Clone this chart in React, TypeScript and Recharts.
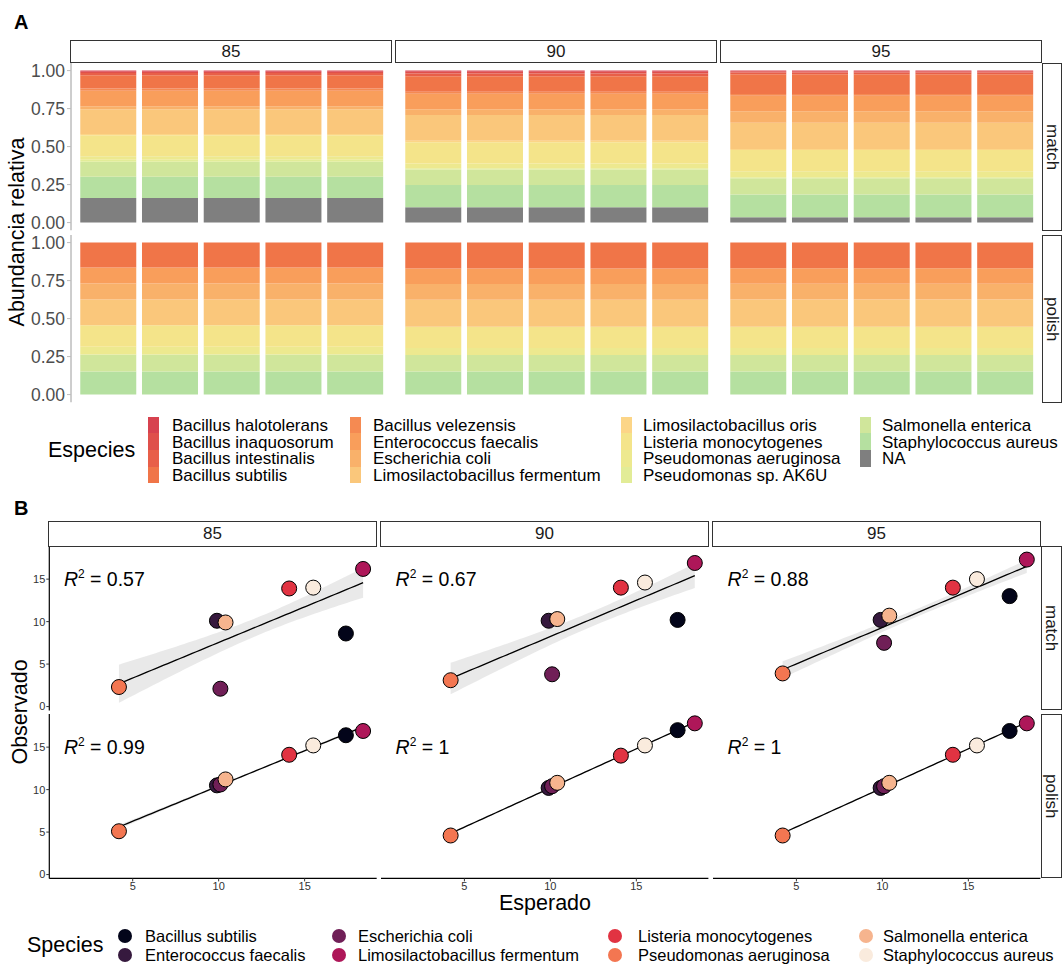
import React from 'react';
import { BarChart, Bar, XAxis, YAxis, ComposedChart, Scatter, Line, Area, ReferenceDot } from 'recharts';

const FONT = '"Liberation Sans", Arial, Helvetica, sans-serif';

const facets = ['85', '90', '95'];
const pipelines = ['match', 'polish'];
const runs = ['1', '2', '3', '4', '5'];

// panel A taxa, legend order (top of stack first)
const taxa = [
  'Bacillus halotolerans', 'Bacillus inaquosorum', 'Bacillus intestinalis', 'Bacillus subtilis',
  'Bacillus velezensis', 'Enterococcus faecalis', 'Escherichia coli', 'Limosilactobacillus fermentum',
  'Limosilactobacillus oris', 'Listeria monocytogenes', 'Pseudomonas aeruginosa', 'Pseudomonas sp. AK6U',
  'Salmonella enterica', 'Staphylococcus aureus', 'NA',
];
const taxaColors = [
  '#d7424f', '#df504b', '#e85f48', '#f07548',
  '#f58a52', '#f99e5b', '#f9b16a', '#fac77b',
  '#fcd587', '#f4e48a', '#ede98f', '#e2ec97',
  '#d0e69b', '#b5e0a0', '#7f7f7f',
];

// mock community members
const mockSpecies = [
  'Bacillus subtilis', 'Enterococcus faecalis', 'Escherichia coli', 'Limosilactobacillus fermentum',
  'Listeria monocytogenes', 'Pseudomonas aeruginosa', 'Salmonella enterica', 'Staphylococcus aureus',
];
const mockColors = ['#03051A', '#36193E', '#701F57', '#AE1759', '#E13342', '#F37651', '#F6B48E', '#FAEBDD'];
const expected = [17.4, 9.9, 10.1, 18.4, 14.1, 4.2, 10.4, 15.5];

// observed %, same order as mockSpecies
const matchObs85 = [8.6, 10.1, 2.1, 16.2, 13.9, 2.3, 9.9, 14.0];
const matchObs90 = [10.2, 10.1, 3.8, 16.9, 14.0, 3.1, 10.3, 14.6];
const matchObs95 = [13.0, 10.2, 7.5, 17.3, 14.0, 3.9, 10.7, 15.0];
const polishObs85 = [16.4, 10.5, 10.6, 16.9, 14.1, 5.1, 11.2, 15.2];
const polishObs90 = [17.0, 10.2, 10.4, 17.8, 14.0, 4.6, 10.8, 15.2];
const polishObs95 = [16.9, 10.2, 10.4, 17.8, 14.1, 4.6, 10.8, 15.2];

// taxa outside the mock community (%)
const extraTaxa = [
  'Bacillus halotolerans', 'Bacillus inaquosorum', 'Bacillus intestinalis', 'Bacillus velezensis',
  'Limosilactobacillus oris', 'Pseudomonas sp. AK6U', 'NA',
];
const matchExtra85 = [0.7, 0.8, 1.6, 1.6, 0.8, 1.2, 16.2];
const matchExtra90 = [0.8, 1.1, 1.8, 1.4, 1.0, 0.8, 10.1];
const matchExtra95 = [0.5, 0.8, 1.1, 1.2, 0.6, 0.7, 3.5];
const polishExtra = [0, 0, 0, 0, 0, 0, 0];

const r2Match = ['0.57', '0.67', '0.88'];
const r2Polish = ['0.99', '1', '1'];

const observed = [
  [matchObs85, matchObs90, matchObs95],
  [polishObs85, polishObs90, polishObs95],
];
const extras = [
  [matchExtra85, matchExtra90, matchExtra95],
  [polishExtra, polishExtra, polishExtra],
];
const r2 = [r2Match, r2Polish];

// ---- layout ----
const A_COL = [71, 396, 721];
const A_W = 321;
const A_ROW = [63.4, 235.4];
const A_H = 167.2;

const B_COL = [49.3, 381.3, 713.3];
const B_W = 327.4;
const B_ROW = [546, 714];
const B_H = 164.4;

// room around each plot so edge tick labels are not clipped
const PAD = 10;

// qt(0.975, df = 38): 8 species x 5 runs, 2 fitted parameters
const T95 = 2.024;

function barRows(obs: number[], extra: number[]) {
  const row: Record<string, number> = {};
  taxa.forEach((t, i) => {
    const a = mockSpecies.indexOf(t);
    const b = extraTaxa.indexOf(t);
    row['t' + i] = (a >= 0 ? obs[a] : extra[b]) / 100;
  });
  return runs.map((r) => ({ run: r, ...row }));
}

// least squares fit with a 95% confidence ribbon, each species counted once per run
function fitBand(xs: number[], ys: number[], reps: number) {
  const m = xs.length;
  const n = m * reps;
  const mx = xs.reduce((s, v) => s + v, 0) / m;
  const my = ys.reduce((s, v) => s + v, 0) / m;
  let sxx = 0;
  let sxy = 0;
  for (let i = 0; i < m; i++) {
    sxx += (xs[i] - mx) ** 2;
    sxy += (xs[i] - mx) * (ys[i] - my);
  }
  const slope = sxy / sxx;
  const icpt = my - slope * mx;
  let sse = 0;
  for (let i = 0; i < m; i++) sse += (ys[i] - icpt - slope * xs[i]) ** 2;
  const s = Math.sqrt((sse * reps) / (n - 2));
  const lo = Math.min(...xs);
  const hi = Math.max(...xs);
  const out = [];
  for (let k = 0; k <= 60; k++) {
    const x = lo + ((hi - lo) * k) / 60;
    const f = icpt + slope * x;
    const se = s * Math.sqrt(1 / n + (x - mx) ** 2 / (sxx * reps));
    out.push({ x, fit: f, band: [f - T95 * se, f + T95 * se] });
  }
  return out;
}

const abs = (left: number, top: number, extra: React.CSSProperties = {}): React.CSSProperties => ({
  position: 'absolute',
  left,
  top,
  ...extra,
});

const Strip = ({ left, top, width, height, text, vertical }: any) => (
  <div
    style={abs(left, top, {
      width,
      height,
      boxSizing: 'border-box',
      border: '1px solid #333',
      background: '#fff',
      display: 'flex',
      alignItems: 'center',
      justifyContent: 'center',
      fontSize: 17,
      lineHeight: 1,
      color: '#1a1a1a',
    })}
  >
    <span style={vertical ? { writingMode: 'vertical-rl' } : undefined}>{text}</span>
  </div>
);

const AbundancePanel = ({ row, col }: { row: number; col: number }) => {
  const yw = col === 0 ? 71 : 0;
  const data = barRows(observed[row][col], extras[row][col]);
  return (
    <div style={abs(A_COL[col] - yw, A_ROW[row] - PAD)}>
      <BarChart
        width={A_W + yw}
        height={A_H + 2 * PAD}
        data={data}
        margin={{ top: PAD, right: 0, bottom: PAD, left: 0 }}
        barCategoryGap="5%"
      >
        <XAxis
          dataKey="run"
          hide={row === 0}
          height={0}
          tick={false}
          tickLine={false}
          axisLine={{ stroke: '#000', strokeWidth: 1.2 }}
          padding={{ left: 6.17, right: 6.17 }}
        />
        <YAxis
          hide={col !== 0}
          width={71}
          type="number"
          domain={[-0.05, 1.05]}
          allowDataOverflow
          ticks={[0, 0.25, 0.5, 0.75, 1]}
          interval={0}
          tickFormatter={(v: number) => v.toFixed(2)}
          tick={{ fontSize: 17.5, fill: '#4d4d4d' }}
          tickSize={4}
          tickMargin={2}
          axisLine={{ stroke: '#bdbdbd', strokeWidth: 1.5 }}
          tickLine={{ stroke: '#bdbdbd' }}
        />
        {taxa
          .map((t, i) => i)
          .reverse()
          .map((i) => (
            <Bar key={i} dataKey={'t' + i} stackId="a" fill={taxaColors[i]} isAnimationActive={false} />
          ))}
      </BarChart>
    </div>
  );
};

const dot = (p: any) => <circle cx={p.cx} cy={p.cy} r={7.5} fill={p.payload.color} stroke="#000" strokeWidth={1} />;

const ScatterPanel = ({ row, col }: { row: number; col: number }) => {
  const yw = col === 0 ? 49.3 : 0;
  const xh = row === 1 ? 18 : 0;
  const bottom = row === 1 ? 0 : PAD;
  const obs = observed[row][col];
  const pts = mockSpecies.map((sp, i) => ({ x: expected[i], y: obs[i], color: mockColors[i], species: sp }));
  const band = fitBand(expected, obs, runs.length);
  const label = r2[row][col];
  return (
    <div style={abs(B_COL[col] - yw, B_ROW[row] - PAD)}>
      <ComposedChart
        width={B_W + yw}
        height={B_H + xh + PAD + bottom}
        margin={{ top: PAD, right: 0, bottom, left: 0 }}
      >
        <XAxis
          type="number"
          dataKey="x"
          domain={[0.15, 19.19]}
          allowDataOverflow
          ticks={[5, 10, 15]}
          interval={0}
          hide={row === 0}
          height={xh}
          tickSize={3}
          tickMargin={0.5}
          tick={{ fontSize: 11, fill: '#333' }}
          axisLine={{ stroke: '#000', strokeWidth: 1.2 }}
          tickLine={{ stroke: '#333' }}
        />
        <YAxis
          type="number"
          dataKey="y"
          domain={[-0.45, 18.9]}
          allowDataOverflow
          ticks={[0, 5, 10, 15]}
          interval={0}
          hide={col !== 0}
          width={49.3}
          tickSize={3}
          tickMargin={1}
          tick={{ fontSize: 11, fill: '#333' }}
          axisLine={{ stroke: '#000', strokeWidth: 1.2 }}
          tickLine={{ stroke: '#333' }}
        />
        <Scatter data={pts} dataKey="y" shape={dot} isAnimationActive={false} />
        <Area
          data={band}
          dataKey="band"
          type="linear"
          stroke="none"
          fill="#999999"
          fillOpacity={0.22}
          isAnimationActive={false}
        />
        <Line data={band} dataKey="fit" type="linear" stroke="#000" strokeWidth={1.3} dot={false} isAnimationActive={false} />
        <ReferenceDot
          x={1}
          y={15}
          r={1}
          shape={(p: any) => (
            <text x={p.cx} y={p.cy + 7} fontSize={19.5} fill="#000">
              <tspan fontStyle="italic">R</tspan>
              <tspan fontSize={12} dy={-8}>2</tspan>
              <tspan dy={8}>{' = ' + label}</tspan>
            </text>
          )}
        />
      </ComposedChart>
    </div>
  );
};

// legend columns for panel A
const legendACols = [
  [0, 1, 2, 3],
  [4, 5, 6, 7],
  [8, 9, 10, 11],
  [12, 13, 14],
];
const legendAKeyX = [148, 350, 621, 860];
const legendALabelX = [172, 373, 643, 882];
const legendARowY = [425, 441.7, 458.3, 475];

const legendBCols = [
  [0, 1],
  [2, 3],
  [4, 5],
  [6, 7],
];
const legendBDotX = [125, 339, 615, 866];
const legendBLabelX = [145, 358, 638, 883];
const legendBRowY = [936, 955];

export default function App() {
  return (
    <div
      style={{
        position: 'absolute',
        left: 0,
        top: 0,
        width: 1063,
        height: 964,
        background: '#fff',
        overflow: 'hidden',
        fontFamily: FONT,
        color: '#000',
      }}
    >
      {/* panel A */}
      <div style={abs(14, 12, { fontSize: 20, fontWeight: 'bold', lineHeight: 1 })}>A</div>
      {pipelines.map((p, r) => facets.map((f, c) => <AbundancePanel key={'a' + p + f} row={r} col={c} />))}
      {facets.map((f, c) => (
        <Strip key={'sa' + f} left={A_COL[c] - 1} top={40} width={A_W + 1} height={23} text={f} />
      ))}
      {pipelines.map((p, r) => (
        <Strip key={'ra' + p} left={1042} top={A_ROW[r]} width={20} height={A_H} text={p} vertical />
      ))}
      <div
        style={abs(18, 232, {
          transform: 'translate(-50%, -50%) rotate(-90deg)',
          fontSize: 21.5,
          lineHeight: 1,
          whiteSpace: 'nowrap',
        })}
      >
        Abundancia relativa
      </div>
      <div style={abs(48, 451, { transform: 'translateY(-50%)', fontSize: 21.5, lineHeight: 1 })}>Especies</div>
      {legendACols.map((col, ci) =>
        col.map((ti, ri) => (
          <React.Fragment key={'la' + ti}>
            <div
              style={abs(legendAKeyX[ci], legendARowY[ri] - 8.35, {
                width: 11,
                height: 16.7,
                background: taxaColors[ti],
              })}
            />
            <div
              style={abs(legendALabelX[ci], legendARowY[ri], {
                transform: 'translateY(-50%)',
                fontSize: 17,
                whiteSpace: 'nowrap',
                lineHeight: '15px',
              })}
            >
              {taxa[ti]}
            </div>
          </React.Fragment>
        ))
      )}

      {/* panel B */}
      <div style={abs(14, 498, { fontSize: 20, fontWeight: 'bold', lineHeight: 1 })}>B</div>
      {pipelines.map((p, r) => facets.map((f, c) => <ScatterPanel key={'b' + p + f} row={r} col={c} />))}
      {facets.map((f, c) => (
        <Strip key={'sb' + f} left={B_COL[c] - 1} top={521} width={B_W + 1} height={25.5} text={f} />
      ))}
      {pipelines.map((p, r) => (
        <Strip key={'rb' + p} left={1041} top={B_ROW[r]} width={21} height={B_H} text={p} vertical />
      ))}
      <div
        style={abs(21, 712, {
          transform: 'translate(-50%, -50%) rotate(-90deg)',
          fontSize: 21.5,
          lineHeight: 1,
          whiteSpace: 'nowrap',
        })}
      >
        Observado
      </div>
      <div style={abs(545, 904, { transform: 'translate(-50%, -50%)', fontSize: 21.5, lineHeight: 1 })}>
        Esperado
      </div>
      <div style={abs(27, 946, { transform: 'translateY(-50%)', fontSize: 21.5, lineHeight: 1 })}>Species</div>
      {legendBCols.map((col, ci) =>
        col.map((si, ri) => (
          <React.Fragment key={'lb' + si}>
            <div
              style={abs(legendBDotX[ci] - 7, legendBRowY[ri] - 7, {
                width: 14,
                height: 14,
                borderRadius: '50%',
                background: mockColors[si],
              })}
            />
            <div
              style={abs(legendBLabelX[ci], legendBRowY[ri], {
                transform: 'translateY(-50%)',
                fontSize: 16.5,
                whiteSpace: 'nowrap',
                lineHeight: '16px',
              })}
            >
              {mockSpecies[si]}
            </div>
          </React.Fragment>
        ))
      )}
    </div>
  );
}
